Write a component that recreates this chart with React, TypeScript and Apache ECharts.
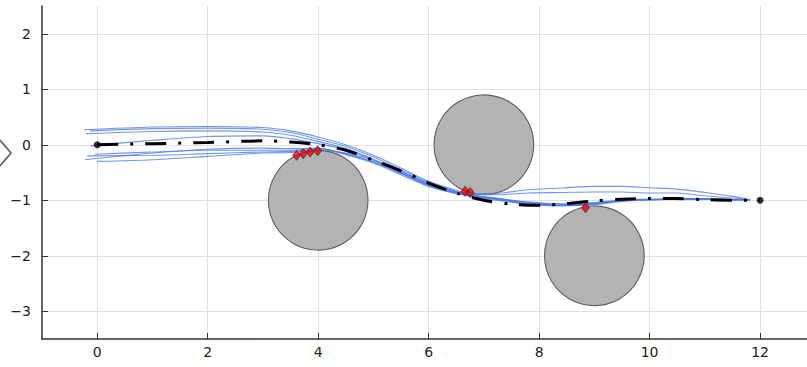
import React, { useEffect, useRef } from "react";
import * as echarts from "echarts";

// Obstacles: center x, center y, radius
const obstacleX = [4, 7, 9];
const obstacleY = [-1, 0, -2];
const obstacleR = [0.9, 0.9, 0.9];

// Reference path (black dash-dot)
const refX = [0, 1, 2, 3, 3.5, 4, 4.5, 5, 5.5, 6, 6.5, 7, 7.5, 8, 8.5, 9, 9.5, 10, 10.5, 11, 11.5, 12];
const refY = [0, 0.02, 0.04, 0.07, 0.05, 0.0, -0.1, -0.28, -0.47, -0.69, -0.87, -1.0, -1.07, -1.09, -1.06, -1.01, -0.98, -0.97, -0.97, -0.99, -1.0, -1.0];

// Sampled trajectories (blue)
const trajStartX = [-0.24, -0.13, -0.2, -0.12, -0.22, -0.04, -0.18, 0.0];
const trajStartY = [0.27, 0.25, 0.2, -0.02, -0.27, -0.17, -0.2, -0.3];
const trajX = [1, 2, 3, 3.5, 4, 4.5, 5, 5.5, 6, 6.5, 6.8, 7.3, 7.8, 8.4, 9.0, 9.5, 10, 10.5, 11, 11.5, 11.82];
const traj1 = [0.32, 0.33, 0.31, 0.25, 0.14, 0.0, -0.19, -0.42, -0.66, -0.82, -0.89, -0.87, -0.81, -0.78, -0.75, -0.75, -0.775, -0.8, -0.86, -0.93, -0.99];
const traj2 = [0.29, 0.3, 0.28, 0.22, 0.1, -0.03, -0.22, -0.45, -0.68, -0.84, -0.9, -0.9, -0.87, -0.86, -0.85, -0.85, -0.87, -0.87, -0.92, -0.96, -0.99];
const traj3 = [0.24, 0.25, 0.23, 0.17, 0.06, -0.07, -0.26, -0.48, -0.7, -0.85, -0.91, -0.98, -1.04, -1.07, -1.04, -1.0, -0.98, -0.98, -0.98, -0.99, -0.99];
const traj4 = [0.08, 0.15, 0.16, 0.11, 0.02, -0.09, -0.28, -0.5, -0.72, -0.86, -0.92, -0.99, -1.06, -1.09, -1.06, -1.01, -0.99, -0.98, -0.98, -0.99, -0.99];
const traj5 = [-0.15, -0.08, -0.06, -0.07, -0.07, -0.16, -0.31, -0.52, -0.74, -0.87, -0.93, -1.0, -1.07, -1.1, -1.08, -1.02, -0.99, -0.98, -0.98, -0.99, -0.99];
const traj6 = [-0.13, -0.1, -0.1, -0.1, -0.06, -0.18, -0.33, -0.54, -0.75, -0.88, -0.94, -1.01, -1.07, -1.1, -1.07, -1.01, -0.99, -0.98, -0.98, -0.99, -0.99];
const traj7 = [-0.19, -0.16, -0.13, -0.12, -0.08, -0.17, -0.31, -0.51, -0.73, -0.87, -0.92, -0.98, -1.05, -1.09, -1.06, -1.01, -0.99, -0.98, -0.98, -0.99, -0.99];
const traj8 = [-0.27, -0.21, -0.15, -0.14, -0.09, -0.15, -0.28, -0.48, -0.71, -0.86, -0.91, -0.97, -1.03, -1.07, -1.05, -1.0, -0.99, -0.98, -0.98, -0.99, -0.99];
const trajYs = [traj1, traj2, traj3, traj4, traj5, traj6, traj7, traj8];

// Closest points on obstacles (red diamonds)
const contactX = [3.61, 3.73, 3.855, 3.99, 6.66, 6.75, 8.84];
const contactY = [-0.19, -0.16, -0.13, -0.11, -0.84, -0.86, -1.135];

// Endpoints
const endX = [0, 12];
const endY = [0, -1];

// Ticks
const xTicks = [0, 2, 4, 6, 8, 10, 12];
const yTicks = [-3, -2, -1, 0, 1, 2];

const fmt = (v: number) => (v < 0 ? "\u2212" + Math.abs(v) : String(v));

export default function App() {
  const ref = useRef<HTMLDivElement>(null);
  useEffect(() => {
    if (!ref.current) return;
    const chart = echarts.init(ref.current, null, { renderer: "svg" });

    const trajSeries = trajYs.map((ys, i) => ({
      type: "line",
      data: [[trajStartX[i], trajStartY[i]], ...trajX.map((x, j) => [x, ys[j]])],
      showSymbol: false,
      smooth: 0.3,
      lineStyle: { color: "#4f7be8", width: 1.1, opacity: 0.8 },
      z: 3,
      silent: true,
    }));

    const axisCommon = {
      axisLine: { show: true, onZero: false, lineStyle: { color: "#333", width: 1.5 } },
      axisTick: { show: true, inside: true, length: 6, lineStyle: { color: "#333", width: 1 } },
      splitLine: { show: true, lineStyle: { color: "#e0e0e0", width: 1 } },
    };

    chart.setOption({
      animation: false,
      grid: { left: 42, right: 0, top: 6, bottom: 28, containLabel: false },
      xAxis: {
        type: "value",
        min: -1,
        max: 12.85,
        ...axisCommon,
        axisTick: { ...axisCommon.axisTick, customValues: xTicks },
        axisLabel: {
          customValues: xTicks,
          formatter: fmt,
          color: "#222",
          fontSize: 14,
          fontFamily: "DejaVu Sans",
          margin: 6,
        },
      },
      yAxis: {
        type: "value",
        min: -3.5,
        max: 2.5,
        ...axisCommon,
        axisTick: { ...axisCommon.axisTick, customValues: yTicks },
        axisLabel: {
          customValues: yTicks,
          formatter: fmt,
          color: "#222",
          fontSize: 14,
          fontFamily: "DejaVu Sans",
          margin: 11,
        },
      },
      graphic: [
        {
          type: "polyline",
          shape: { points: [[0, 140], [11, 153], [0, 166]] },
          style: { stroke: "#5f6678", lineWidth: 1.8, fill: "none" },
          z: 100,
        },
      ],
      series: [
        {
          type: "custom",
          data: obstacleX.map((x, i) => [x, obstacleY[i], obstacleR[i]]),
          encode: { x: 0, y: 1 },
          z: 1,
          silent: true,
          renderItem: (params: any, api: any) => {
            const c = api.coord([api.value(0), api.value(1)]);
            const s = api.size([api.value(2), api.value(2)]);
            return {
              type: "circle",
              shape: { cx: c[0], cy: c[1], r: (s[0] + s[1]) / 2 },
              style: { fill: "#b3b3b3", stroke: "#5e5e5e", lineWidth: 1.1 },
            };
          },
        },
        ...trajSeries,
        {
          type: "line",
          data: refX.map((x, i) => [x, refY[i]]),
          showSymbol: false,
          smooth: 0.3,
          lineStyle: { color: "#000", width: 3, type: [21, 12, 3, 12], cap: "butt" },
          z: 4,
          silent: true,
        },
        {
          type: "scatter",
          data: endX.map((x, i) => [x, endY[i]]),
          symbol: "circle",
          symbolSize: 7,
          itemStyle: { color: "#000" },
          z: 5,
          silent: true,
        },
        {
          type: "scatter",
          data: contactX.map((x, i) => [x, contactY[i]]),
          symbol: "diamond",
          symbolSize: [8, 10],
          itemStyle: { color: "#f20000", borderColor: "#222", borderWidth: 0.8 },
          z: 6,
          silent: true,
        },
      ],
    });
    return () => chart.dispose();
  }, []);
  return (
    <div
      ref={ref}
      style={{ position: "absolute", left: 0, top: 0, width: 807, height: 367 }}
    />
  );
}
